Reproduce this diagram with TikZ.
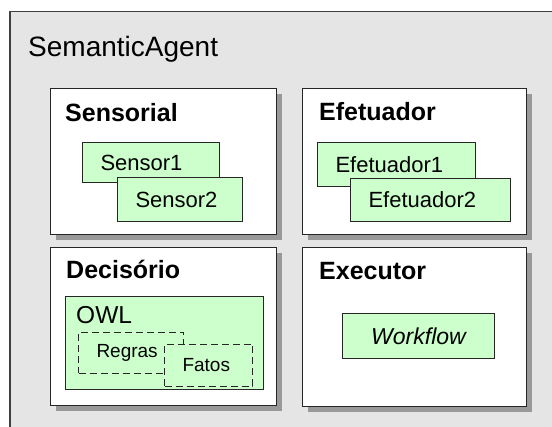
\documentclass[tikz,border=0pt]{standalone}
\usepackage{fontspec}
\setmainfont{Liberation Sans}
\usetikzlibrary{positioning,shadows}

\definecolor{compgreen}{RGB}{204,255,204}
\definecolor{agentgray}{RGB}{229,229,229}

\tikzset{
    partbox/.style={draw=black!85, fill=white, line width=1.2pt, anchor=north west, inner sep=0pt,
        drop shadow={shadow xshift=5pt, shadow yshift=-5pt, fill=black!40, opacity=1}},
    compbox/.style={draw=black!85, fill=compgreen, line width=1pt, anchor=north west,
        inner xsep=18pt, inner ysep=0pt, align=left, font=\fontsize{22}{26}\selectfont},
    dashbox/.style={compbox, dash pattern=on 7pt off 4pt, font=\fontsize{19}{23}\selectfont},
    parttitle/.style={anchor=base west, inner sep=0pt, font=\fontsize{25}{30}\selectfont\bfseries},
}

\begin{document}
\begin{tikzpicture}[x=1pt, y=-1pt]
    \clip (0,0) rectangle (552,427);
    \fill[white] (0,0) rectangle (552,427);

    \node[draw=black!75, fill=agentgray, line width=1.5pt, anchor=north west,
        minimum width=600pt, minimum height=480pt] (agent) at (9,11) {};
    \node[anchor=base west, inner sep=0pt, font=\fontsize{28}{33}\selectfont] (t-agent) at (28,57) {SemanticAgent};

    \node[partbox, minimum width=226pt, minimum height=146pt] (sensorial) at (50,88) {};
    \node[partbox, minimum width=224pt, minimum height=146pt] (efetuador) at (302,88) {};
    \node[partbox, minimum width=226pt, minimum height=158pt] (decisorio) at (50,247) {};
    \node[partbox, minimum width=224pt, minimum height=159pt] (executor) at (302,247) {};

    \node[parttitle] (t-sensorial) at ([shift={(15,34)}]sensorial.north west) {Sensorial};
    \node[parttitle] (t-efetuador) at ([shift={(17,33)}]efetuador.north west) {Efetuador};
    \node[parttitle] (t-decisorio) at ([shift={(16,32)}]decisorio.north west) {Decisório};
    \node[parttitle] (t-executor) at ([shift={(17,33)}]executor.north west) {Executor};

    \node[compbox, text width=101pt, minimum height=40pt] (sensor1) at (82,142) {Sensor1};
    \node[compbox, text width=89pt, minimum height=44pt] (sensor2) at (117,177) {Sensor2};

    \node[compbox, text width=122pt, minimum height=44pt] (efet1) at (317,142) {Efetuador1};
    \node[compbox, text width=124pt, minimum height=43pt] (efet2) at (350,178) {Efetuador2};

    \node[compbox, minimum width=198pt, minimum height=93pt] (owl) at (65,296) {};
    \node[anchor=base west, inner sep=0pt, font=\fontsize{24.5}{29}\selectfont] (t-owl) at ([shift={(11,28)}]owl.north west) {OWL};
    \node[dashbox, text width=69pt, minimum height=41pt] (regras) at (78,332) {Regras};
    \node[dashbox, text width=52pt, minimum height=42pt] (fatos) at (164,344) {Fatos};

    \node[compbox, align=center, inner xsep=0pt, text width=152pt, minimum height=45pt,
        font=\fontsize{23}{27}\selectfont\itshape] (workflow) at (342,313) {Workflow};
\end{tikzpicture}
\end{document}
